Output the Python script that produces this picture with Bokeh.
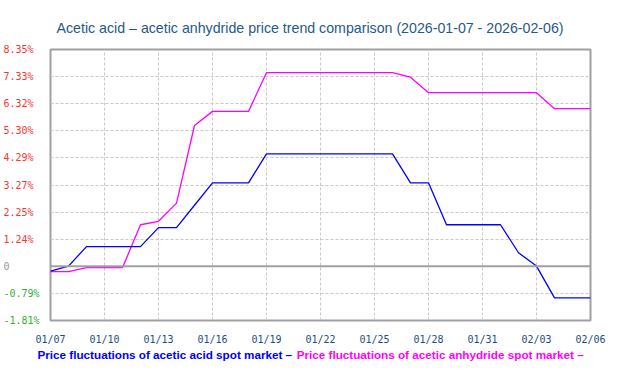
import pandas as pd
from bokeh.plotting import figure
from bokeh.models import (Range1d, FixedTicker, DatetimeTickFormatter, ColumnDataSource,
                          LinearAxis, Span, Title)
from bokeh.embed import file_html
from bokeh.resources import INLINE

# ---------------- data ----------------
dates = pd.date_range("2026-01-07", "2026-02-06", freq="D")

acetic_acid = [0.04, 0.23, 0.96, 0.96, 0.96, 0.96, 1.67, 1.67, 2.51, 3.35,
               3.35, 3.35, 4.44, 4.44, 4.44, 4.44, 4.44, 4.44, 4.44, 4.44,
               3.35, 3.35, 1.78, 1.78, 1.78, 1.78, 0.73, 0.23, -0.96, -0.96,
               -0.96]

acetic_anhydride = [0.02, 0.02, 0.17, 0.17, 0.17, 1.78, 1.91, 2.59, 5.50, 6.03,
                    6.03, 6.03, 7.48, 7.48, 7.48, 7.48, 7.48, 7.48, 7.48, 7.48,
                    7.31, 6.73, 6.73, 6.73, 6.73, 6.73, 6.73, 6.73, 6.13, 6.13,
                    6.13]

y_ticks = [-1.81, -0.79, 0.22, 1.24, 2.25, 3.27, 4.29, 5.30, 6.32, 7.33, 8.35]
y_tick_labels = ["-1.81%", "-0.79%", "0", "1.24%", "2.25%", "3.27%", "4.29%",
                 "5.30%", "6.32%", "7.33%", "8.35%"]
zero_level = 0.22

x_tick_dates = ["2026-01-07", "2026-01-10", "2026-01-13", "2026-01-16", "2026-01-19",
                "2026-01-22", "2026-01-25", "2026-01-28", "2026-01-31", "2026-02-03",
                "2026-02-06"]

title_text = "Acetic acid \u2013 acetic anhydride price trend comparison (2026-01-07 - 2026-02-06)"
legend_acid = "Price fluctuations of acetic acid spot market \u2013"
legend_anhydride = "Price fluctuations of acetic anhydride spot market \u2013"

# ---------------- main chart ----------------
def ms(d):
    return int(pd.Timestamp(d).value // 10**6)

x0, x1 = ms(dates[0]), ms(dates[-1])
p = figure(frame_width=540, frame_height=271,
           min_border_left=50, min_border_right=30, min_border_top=49, min_border_bottom=20,
           x_axis_type="datetime",
           x_range=Range1d(x0, x1),
           y_range=Range1d(y_ticks[0], y_ticks[-1]),
           output_backend="svg", toolbar_location=None)
p.background_fill_color = "white"
p.border_fill_color = "white"
p.outline_line_color = "#a0a0a0"
p.outline_line_width = 2

p.add_layout(Title(text=title_text, align="left", offset=6, standoff=27,
                   text_font="Liberation Sans", text_font_size="14.2px",
                   text_font_style="normal", text_color="#1f5a86"), "above")

# x axis
p.xaxis.ticker = FixedTicker(ticks=[ms(d) for d in x_tick_dates])
fmt = "%m/%d"
p.xaxis.formatter = DatetimeTickFormatter(milliseconds=fmt, seconds=fmt, minsec=fmt,
                                          minutes=fmt, hourmin=fmt, hours=fmt, days=fmt,
                                          months=fmt, years=fmt)
p.xaxis.axis_line_color = None
p.xaxis.major_tick_line_color = None
p.xaxis.minor_tick_line_color = None
p.xaxis.major_tick_out = 0
p.xaxis.major_tick_in = 0
p.xaxis.major_label_standoff = 13
p.xaxis.major_label_text_font = "DejaVu Sans Mono"
p.xaxis.major_label_text_font_size = "10px"
p.xaxis.major_label_text_color = "#1d4e7c"

# y axes: one per label colour, overlaid at the same place (labels left-aligned)
p.yaxis.visible = False
groups = {"pos": ("#ff3333", 11), "zero": ("#999999", -39), "neg": ("#33b233", -39)}
for key in ("pos", "zero", "neg"):
    color, standoff = groups[key]
    ticks, overrides = [], {}
    for t, lab in zip(y_ticks, y_tick_labels):
        g = "zero" if lab == "0" else ("neg" if lab.startswith("-") else "pos")
        if g == key:
            ticks.append(t)
            overrides[t] = lab.ljust(6, "\u00a0")
    ax = LinearAxis(ticker=FixedTicker(ticks=ticks), major_label_overrides=overrides,
                    axis_line_color=None, major_tick_line_color=None,
                    minor_tick_line_color=None, major_tick_in=0, major_tick_out=0,
                    major_label_standoff=standoff,
                    major_label_text_font="DejaVu Sans Mono",
                    major_label_text_font_size="10px",
                    major_label_text_color=color)
    p.add_layout(ax, "left")

# legend: coloured texts below the x axis, sharing one row
legend_items = [(legend_acid, "#0000ff", 0.2117, 0),
                (legend_anhydride, "#ff00ff", 0.7217, -16)]
for text, color, frac, standoff in legend_items:
    pos = int(x0 + frac * (x1 - x0))
    ax = LinearAxis(ticker=FixedTicker(ticks=[pos]), major_label_overrides={pos: text},
                    axis_line_color=None, major_tick_line_color=None,
                    minor_tick_line_color=None, major_tick_in=0, major_tick_out=0,
                    major_label_standoff=standoff,
                    major_label_text_font="Liberation Sans",
                    major_label_text_font_style="bold",
                    major_label_text_font_size="11.7px",
                    major_label_text_color=color)
    p.add_layout(ax, "below")

p.ygrid.ticker = FixedTicker(ticks=y_ticks)
for g in (p.xgrid, p.ygrid):
    g.grid_line_color = "#c8c8c8"
    g.grid_line_dash = "3 2"
    g.grid_line_width = 1

p.add_layout(Span(location=zero_level, dimension="width", line_color="#a0a0a0", line_width=2))

# lines
src = ColumnDataSource(dict(date=list(dates), acid=acetic_acid, anhydride=acetic_anhydride))
p.line(x="date", y="anhydride", source=src, line_color="#ff00ff", line_width=1.3)
p.line(x="date", y="acid", source=src, line_color="#0000ff", line_width=1.3)

open("out.html", "w").write(file_html(p, INLINE))
